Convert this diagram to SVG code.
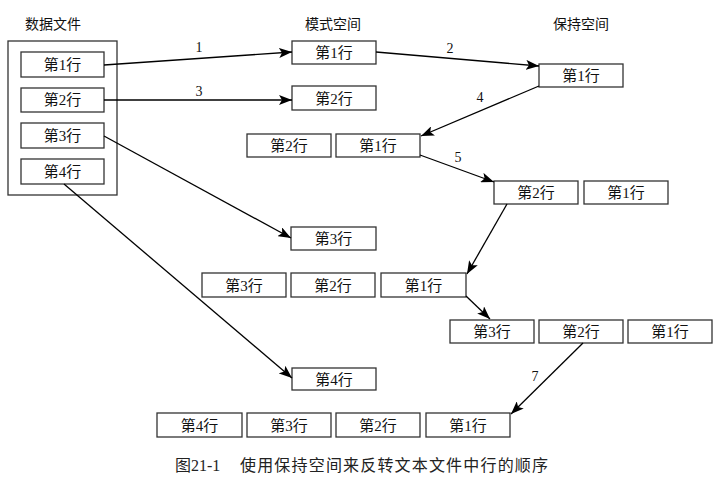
<svg xmlns="http://www.w3.org/2000/svg" width="725" height="482" viewBox="0 0 725 482">
<style>
.box{fill:#fff;stroke:#333;stroke-width:1.3}
.t{font-family:"Liberation Serif","Noto Sans CJK SC",serif;font-size:15px;fill:#111;text-anchor:middle}
.h{font-family:"Liberation Serif","Noto Sans CJK SC",serif;font-size:14px;fill:#111;text-anchor:middle}
.n{font-family:"Liberation Serif",serif;font-size:14px;fill:#111;text-anchor:middle}
.c{stroke:#000;stroke-width:1.3;fill:none;marker-end:url(#ah)}
.cap{font-family:"Liberation Serif","Noto Sans CJK SC",serif;font-size:16px;fill:#222}
</style>
<defs>
<marker id="ah" markerUnits="userSpaceOnUse" markerWidth="14" markerHeight="10" refX="13" refY="5" orient="auto">
<path d="M0,0 L13,5 L0,10 L3,5 Z" fill="#000"/>
</marker>
</defs>
<rect width="725" height="482" fill="#fff"/>
<text class="h" x="53" y="29">数据文件</text>
<text class="h" x="333" y="29">模式空间</text>
<text class="h" x="581" y="29">保持空间</text>

<g id="file">
<rect class="box" x="8" y="41" width="109" height="154"/>
</g>
<g id="f1"><rect class="box" x="21" y="52" width="83" height="25"/><text class="t" x="62.5" y="70">第1行</text></g>
<g id="f2"><rect class="box" x="21" y="88" width="83" height="24"/><text class="t" x="62.5" y="105">第2行</text></g>
<g id="f3"><rect class="box" x="21" y="123" width="83" height="25"/><text class="t" x="62.5" y="141">第3行</text></g>
<g id="f4"><rect class="box" x="21" y="159" width="83" height="25"/><text class="t" x="62.5" y="177">第4行</text></g>

<g id="p1"><rect class="box" x="292" y="41" width="84" height="23"/><text class="t" x="334" y="58">第1行</text></g>
<g id="p2"><rect class="box" x="292" y="86" width="84" height="24"/><text class="t" x="334" y="104">第2行</text></g>
<g id="r1a"><rect class="box" x="247" y="134" width="84" height="23"/><text class="t" x="289" y="151">第2行</text></g>
<g id="r1b"><rect class="box" x="336" y="134" width="84" height="23"/><text class="t" x="378" y="151">第1行</text></g>
<g id="p3"><rect class="box" x="291" y="227" width="85" height="23"/><text class="t" x="333.5" y="244">第3行</text></g>
<g id="r2a"><rect class="box" x="202" y="273" width="84" height="24"/><text class="t" x="244" y="291">第3行</text></g>
<g id="r2b"><rect class="box" x="291" y="273" width="84" height="24"/><text class="t" x="333" y="291">第2行</text></g>
<g id="r2c"><rect class="box" x="381" y="273" width="85" height="24"/><text class="t" x="423.5" y="291">第1行</text></g>
<g id="p4"><rect class="box" x="292" y="368" width="84" height="22"/><text class="t" x="334" y="385">第4行</text></g>
<g id="r3a"><rect class="box" x="157" y="413" width="85" height="24"/><text class="t" x="199.5" y="431">第4行</text></g>
<g id="r3b"><rect class="box" x="247" y="413" width="84" height="24"/><text class="t" x="289" y="431">第3行</text></g>
<g id="r3c"><rect class="box" x="336" y="413" width="84" height="24"/><text class="t" x="378" y="431">第2行</text></g>
<g id="r3d"><rect class="box" x="426" y="413" width="84" height="24"/><text class="t" x="468" y="431">第1行</text></g>

<g id="h1"><rect class="box" x="539" y="64" width="84" height="23"/><text class="t" x="581" y="81">第1行</text></g>
<g id="h2a"><rect class="box" x="494" y="181" width="84" height="23"/><text class="t" x="536" y="198">第2行</text></g>
<g id="h2b"><rect class="box" x="584" y="181" width="84" height="23"/><text class="t" x="626" y="198">第1行</text></g>
<g id="h3a"><rect class="box" x="450" y="320" width="84" height="23"/><text class="t" x="492" y="337">第3行</text></g>
<g id="h3b"><rect class="box" x="539" y="320" width="84" height="23"/><text class="t" x="581" y="337">第2行</text></g>
<g id="h3c"><rect class="box" x="628" y="320" width="84" height="23"/><text class="t" x="670" y="337">第1行</text></g>

<g id="connectors">
<line class="c" x1="104" y1="65" x2="292" y2="52"/>
<line class="c" x1="104" y1="100" x2="292" y2="100"/>
<line class="c" x1="376" y1="52" x2="539" y2="66"/>
<line class="c" x1="539" y1="86" x2="421" y2="136"/>
<line class="c" x1="420" y1="155" x2="494" y2="182"/>
<line class="c" x1="104" y1="136" x2="291" y2="238"/>
<line class="c" x1="507" y1="204" x2="467" y2="274"/>
<line class="c" x1="466" y1="296" x2="490" y2="319"/>
<line class="c" x1="64" y1="184" x2="292" y2="378"/>
<line class="c" x1="583" y1="343" x2="511" y2="414"/>
<text class="n" x="199" y="52">1</text>
<text class="n" x="199" y="96">3</text>
<text class="n" x="450" y="53">2</text>
<text class="n" x="480" y="102">4</text>
<text class="n" x="458" y="162">5</text>
<text class="n" x="535" y="381">7</text>
</g>

<text class="cap" x="175" y="471">图21-1</text>
<text class="cap" x="240" y="471" textLength="308" lengthAdjust="spacing">使用保持空间来反转文本文件中行的顺序</text>
</svg>
